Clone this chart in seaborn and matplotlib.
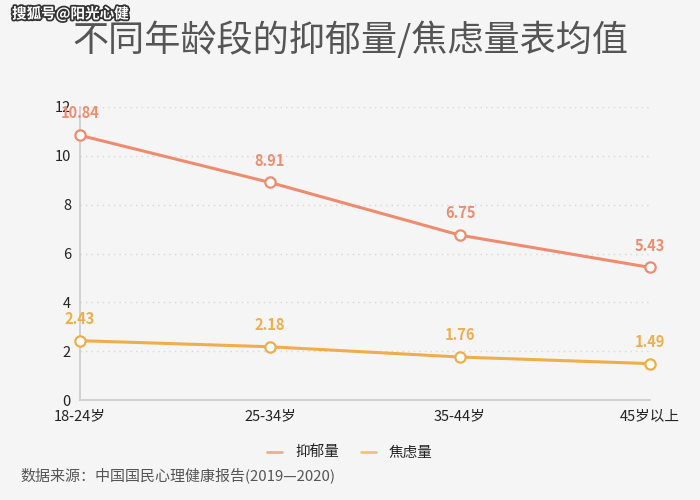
import matplotlib
matplotlib.use("Agg")
import matplotlib.pyplot as plt
import seaborn as sns
import pandas as pd
import matplotlib.patheffects as pe

categories = ["18-24岁", "25-34岁", "35-44岁", "45岁以上"]
depression = [10.84, 8.91, 6.75, 5.43]
anxiety = [2.43, 2.18, 1.76, 1.49]
series_names = ["抑郁量", "焦虑量"]
y_ticks = [0, 2, 4, 6, 8, 10, 12]

colors = ["#ef8c6f", "#efae4a"]
bg = "#f5f5f5"

sns.set_theme(style="white")
plt.rcParams['font.family'] = ['Noto Sans CJK SC', 'DejaVu Sans']

df = pd.DataFrame({
    "age": categories * 2,
    "x": list(range(len(categories))) * 2,
    "value": depression + anxiety,
    "series": [series_names[0]] * 4 + [series_names[1]] * 4,
})

fig = plt.figure(figsize=(7, 5), dpi=100, facecolor=bg)
ax = fig.add_axes([80/700, 100/500, 570/700, 293/500])
ax.set_facecolor(bg)

sns.lineplot(data=df, x="x", y="value", hue="series", palette=colors,
             linewidth=2.2, ax=ax, legend=True, sort=False)
for i, vals in enumerate([depression, anxiety]):
    ax.scatter(range(len(vals)), vals, s=55, facecolor="white",
               edgecolor=colors[i], linewidth=1.6, zorder=5, clip_on=False)
    for xi, v in enumerate(vals):
        ax.annotate(f"{v:.2f}", (xi, v), xytext=(0, 10), textcoords="offset points",
                    ha="center", va="bottom", fontsize=10.5, fontweight="bold",
                    color=colors[i], zorder=6)

ax.set_xlim(0, 3)
ax.set_ylim(0, 12)
ax.set_yticks(y_ticks)
ax.set_xticks(range(len(categories)))
ax.set_xticklabels(categories)
ax.tick_params(axis="both", labelsize=10.5, colors="#222222", length=3, width=0.8)
ax.tick_params(axis="x", color="#cccccc")
ax.tick_params(axis="y", color="#cccccc")
ax.set_xlabel("")
ax.set_ylabel("")
ax.grid(axis="y", linestyle=(0, (1, 3)), color="#d8d8d8", linewidth=1)
ax.grid(axis="x", visible=False)
for s in ["top", "right"]:
    ax.spines[s].set_visible(False)
for s in ["left", "bottom"]:
    ax.spines[s].set_color("#cccccc")
    ax.spines[s].set_linewidth(1.2)

leg = ax.legend(loc="center", bbox_to_anchor=(350/700, 1 - 453/500),
                bbox_transform=fig.transFigure, ncol=2, frameon=False,
                fontsize=10.5, handlelength=1.0, handletextpad=0.9, columnspacing=1.5)
for h in leg.get_lines():
    h.set_linewidth(2)
    h.set_alpha(0.7)
for t in leg.get_texts():
    t.set_color("#222222")

fig.text(350/700, 1 - 40/500, "不同年龄段的抑郁量/焦虑量表均值", ha="center", va="center",
         fontsize=26, color="#555555")
fig.text(20/700, 1 - 475/500, "数据来源：中国国民心理健康报告(2019—2020)", ha="left", va="center",
         fontsize=10.8, color="#555555")
fig.text(12/700, 1 - 14/500, "搜狐号@阳光心健", ha="left", va="center", fontsize=10.5,
         fontweight="bold", color="white",
         path_effects=[pe.withStroke(linewidth=2.5, foreground="#333333")])

fig.savefig("out.png", dpi=100, facecolor=bg)
